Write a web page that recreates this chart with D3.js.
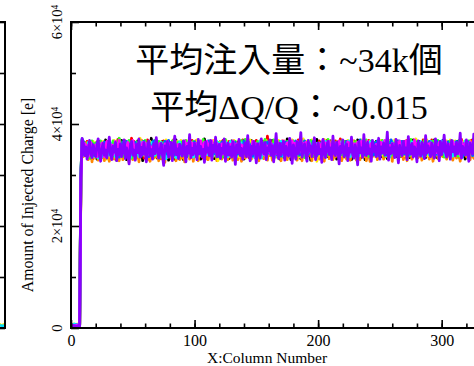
<!DOCTYPE html>
<html>
<head>
<meta charset="utf-8">
<script src="https://cdn.jsdelivr.net/npm/d3@7"></script>
<style>
  html, body { margin: 0; padding: 0; background: #fff; }
  svg { display: block; }
  .tick-text { font-family: 'Liberation Serif', 'Times New Roman', serif; fill: #000; }
  .note { font-family: 'Liberation Serif', 'Noto Sans CJK JP', serif; font-size: 34px; fill: #000; }
</style>
</head>
<body>
<div id="chart"></div>
<script>
// values are in units of 100 e, one per column (0..330)
const seriesBlack = [5,4,6,5,4,5,4,6,302,368,
351,344,360,337,355,346,333,363,341,352,358,331,347,366,340,356,335,350,369,343,
338,352,345,361,334,357,348,329,365,351,343,368,337,355,346,330,359,350,338,362,
356,334,351,343,367,339,352,361,328,347,365,341,337,356,349,372,334,348,359,340,
333,361,352,340,366,349,336,354,345,329,363,338,357,346,331,369,350,343,356,337,
352,330,364,345,359,338,349,366,341,355,336,357,349,342,364,331,353,345,371,339,
360,336,354,347,338,365,332,352,359,344,340,366,348,357,335,351,362,343,332,358,
367,344,333,356,349,338,354,365,342,350,331,352,364,340,357,345,368,336,353,360,
346,337,358,349,343,366,333,352,361,339,355,340,351,368,344,336,357,350,365,331,
362,348,335,355,343,371,338,352,330,359,341,364,353,337,358,346,332,367,355,343,
360,349,338,354,329,363,345,336,358,370,339,356,364,347,333,352,359,344,336,357,
367,349,340,358,352,331,365,344,353,338,348,363,335,351,357,342,366,330,355,361,
337,350,369,343,359,334,356,347,330,364,345,357,332,361,340,352,338,366,355,343,
358,336,365,341,353,344,332,360,347,368,339,355,362,336,350,365,341,353,359,334,
366,345,357,341,334,360,346,369,338,352,359,343,366,352,338,347,363,334,356,341,
364,352,338,360,369,343,334,357,350,337,355,368,342,336,359,348,365,354,339,362,
341,360,349,366,335,353,344,363,357,331,352,338,364,343,357,369,336,350,361,346,355];

const seriesRed = [6,5,4,6,5,6,5,5,290,365,
344,359,338,366,342,353,362,347,332,358,349,365,340,356,361,337,348,363,334,351,
366,340,357,348,336,362,341,354,370,347,338,355,361,343,367,341,352,336,349,372,
351,366,340,349,336,357,345,368,352,333,358,346,369,339,355,343,364,337,351,346,
365,344,358,332,352,367,341,338,356,362,336,351,345,369,341,355,363,349,335,366,
359,343,338,360,347,354,340,357,368,345,348,367,341,355,336,362,349,333,356,352,
337,364,350,341,360,346,368,339,357,362,347,354,338,368,345,360,337,352,366,343,
358,336,361,351,342,365,339,356,346,369,362,340,353,347,334,366,350,359,338,357,
368,343,356,362,337,341,365,346,352,376,339,358,366,345,351,362,338,357,348,343,
355,367,342,350,338,354,363,341,367,351,346,337,361,353,369,340,358,346,337,366,
352,364,345,338,361,352,337,346,363,356,344,367,340,358,351,336,348,368,342,353,
338,362,352,339,367,347,356,345,371,336,357,350,366,341,354,363,338,349,358,367,
345,333,356,349,366,341,362,352,339,356,350,368,343,355,337,364,349,359,340,348,
364,347,357,335,366,352,341,368,358,337,349,363,345,357,367,341,349,336,362,353,
357,335,368,347,362,353,338,348,366,360,343,356,337,362,348,369,355,344,339,365,
356,347,369,337,358,349,362,341,366,350,362,339,356,367,348,340,353,363,346,335,
366,351,338,356,362,343,370,348,339,365,344,362,351,339,368,356,346,357,367,340,359];

const seriesOrange = [7,6,5,7,6,5,6,7,285,362,
336,348,364,345,330,358,351,326,347,339,361,342,329,352,345,334,357,328,343,360,
341,327,350,339,362,331,345,359,335,328,352,344,330,341,356,347,337,325,353,342,
330,357,347,333,352,326,361,340,346,356,338,353,330,345,327,344,357,333,349,335,
343,328,339,355,331,346,325,361,334,351,354,332,349,337,346,328,343,358,330,340,
333,350,326,344,339,359,331,342,348,327,355,339,346,328,352,341,358,336,344,331,
349,330,343,356,332,341,337,355,328,353,339,358,331,347,352,339,345,330,357,336,
345,329,352,340,362,330,347,343,327,359,341,333,349,357,338,343,331,352,344,334,
356,336,328,347,341,360,332,343,351,329,362,338,345,329,357,342,335,351,340,348,
328,355,343,339,361,330,350,336,358,344,333,352,344,329,350,362,339,328,357,341,
347,335,354,342,340,328,360,343,332,349,353,331,343,356,340,327,364,339,349,332,
344,358,330,351,335,356,338,343,360,328,336,351,342,331,360,341,329,347,354,337,
357,329,345,338,330,359,343,336,351,328,341,350,327,345,359,337,361,344,330,350,
339,343,356,331,347,336,353,332,341,359,327,350,337,344,358,333,348,338,354,330,
351,342,328,359,337,349,331,346,341,357,339,334,352,346,329,357,340,350,337,344,
331,358,346,327,352,340,361,332,345,338,350,336,343,352,331,359,337,345,356,329,
341,354,333,348,340,327,352,339,355,344,336,355,342,330,347,338,333,352,343,361,337];

const seriesYellow = [8,7,8,6,7,8,7,6,280,360,
354,346,341,357,339,362,350,344,366,335,344,350,365,338,355,347,366,342,357,331,
358,346,336,354,349,368,335,352,344,361,347,359,343,366,340,357,351,338,362,354,
365,341,357,362,351,347,372,343,356,340,337,359,348,353,366,338,350,364,341,356,
353,345,366,336,349,359,342,369,337,350,358,346,340,362,337,352,366,344,349,368,
346,363,341,354,367,336,357,348,364,352,341,356,369,337,350,345,365,342,360,346,
362,340,359,350,344,368,339,356,345,328,351,366,343,360,339,354,367,341,353,362,
340,356,368,345,350,359,336,365,347,354,355,348,339,361,352,369,343,357,347,336,
359,352,366,341,357,344,363,339,368,349,353,345,359,363,340,355,352,337,368,347,
350,339,356,367,347,360,338,354,345,369,363,341,355,348,360,336,352,343,371,358,
347,366,352,358,343,369,340,355,345,327,361,349,336,363,356,370,344,350,359,346,
342,367,358,348,361,340,354,366,337,357,363,339,357,346,368,351,342,359,366,348,
352,365,341,354,338,369,349,358,343,361,339,354,366,348,343,359,337,355,365,346,
357,368,339,350,361,345,356,342,367,351,345,358,369,341,355,347,364,339,350,362,
338,367,353,344,366,339,357,350,345,371,366,348,359,341,354,363,346,356,369,338,
343,360,352,365,346,358,339,363,356,344,358,345,361,340,367,352,343,369,337,355,
349,367,355,345,358,362,340,351,366,343,362,351,345,367,339,356,358,341,352,325,347];

const seriesGreen = [5,6,7,5,6,7,6,5,298,370,
347,364,343,350,360,333,356,367,345,361,363,338,354,347,367,342,340,358,363,348,
347,360,352,341,367,337,355,345,360,372,365,340,355,336,352,362,347,368,341,333,
347,360,338,365,341,353,343,359,366,350,368,336,358,345,352,363,347,337,368,352,
340,366,335,357,345,364,351,342,361,347,350,341,367,343,359,346,336,365,352,359,
365,338,356,368,343,348,363,351,337,366,352,343,362,347,366,338,357,370,348,343,
356,349,367,338,352,343,363,348,335,364,343,361,352,336,356,370,341,347,359,348,
364,351,339,366,337,352,347,360,368,341,343,370,349,355,364,340,361,349,354,342,
351,366,340,355,347,338,357,370,344,360,364,349,356,338,369,340,346,363,356,366,
348,361,337,359,351,366,346,339,355,344,367,355,348,362,338,365,344,360,351,334,
356,342,363,350,368,344,361,337,359,352,347,363,355,340,346,362,351,338,370,356,
361,343,350,366,344,352,340,359,347,367,340,366,353,337,362,345,358,341,350,356,
366,341,358,363,352,345,338,362,357,369,353,336,361,367,350,341,364,348,362,355,
342,361,368,348,337,358,346,355,364,339,357,340,353,366,342,359,336,366,345,341,
361,349,340,356,338,370,352,344,358,366,347,339,363,355,344,342,368,351,362,346,
359,344,355,367,341,350,356,368,341,362,346,360,335,358,352,343,366,357,344,367,
363,345,360,337,368,350,357,362,341,353,355,340,367,349,345,363,350,367,358,344,362];

const seriesCyan = [6,7,6,8,7,6,7,8,300,371,
339,355,348,344,364,340,352,357,336,343,354,346,333,361,349,335,352,344,341,359,
345,339,363,347,358,343,336,362,346,352,358,348,342,350,363,338,355,345,334,348,
362,345,352,341,358,336,349,364,340,355,344,360,343,349,338,357,365,345,339,361,
347,357,342,364,336,354,348,332,350,358,343,360,352,348,355,334,358,351,365,339,
349,356,363,338,350,364,345,360,343,335,361,339,353,365,344,350,341,359,362,349,
340,358,347,352,364,337,357,343,366,351,362,348,357,351,343,365,358,336,348,366,
351,362,340,359,336,357,344,351,363,347,358,345,357,343,361,353,339,364,335,352,
343,357,351,367,333,356,348,339,359,341,350,364,347,352,360,335,361,341,351,357,
366,337,361,345,358,347,363,350,341,364,352,360,338,356,347,358,340,353,344,349,
338,356,349,364,352,359,346,361,339,362,357,345,361,352,338,356,366,349,344,351,
349,355,344,361,357,346,362,337,364,352,344,358,361,349,345,367,336,356,348,342,
360,354,347,338,361,357,366,341,353,345,358,347,365,341,354,360,343,351,338,364,
348,341,359,366,356,338,362,346,335,354,365,356,341,347,361,354,345,360,343,359,
350,362,346,352,340,357,365,337,349,356,361,352,341,366,357,336,351,360,347,353,
339,366,343,355,360,347,352,340,361,348,367,344,352,338,363,355,341,350,362,337,
347,364,343,361,353,338,359,344,352,367,350,343,358,354,362,345,339,363,349,357,343];

const seriesBlue = [4,5,4,5,6,4,5,6,294,369,
366,340,357,349,343,355,346,361,352,338,345,363,356,336,359,350,344,365,337,355,
361,353,339,357,345,355,362,341,358,335,344,352,365,348,343,366,351,339,361,347,
355,339,364,346,357,343,352,337,360,366,351,345,362,336,359,348,341,367,356,349,
359,336,352,349,358,342,366,346,341,368,347,355,361,338,364,349,357,339,360,352,
341,365,343,357,336,362,352,345,356,362,365,351,337,359,348,343,361,356,339,345,
353,367,339,358,348,355,342,361,350,336,358,341,365,349,360,347,339,355,345,351,
346,359,352,364,345,341,361,348,356,338,367,350,344,352,341,359,355,337,362,345,
357,345,361,338,352,363,347,356,341,365,343,357,339,360,347,352,366,339,356,350,
337,362,351,347,365,341,356,347,360,343,355,349,367,342,352,339,361,351,345,367,
350,361,340,346,356,348,366,350,343,338,342,350,355,365,343,349,337,362,354,360,
356,339,366,354,348,359,345,350,339,361,351,345,339,366,350,357,361,345,344,350,
342,360,352,345,369,348,357,339,361,350,360,345,356,352,346,339,363,341,367,338,
351,358,343,355,350,361,339,359,346,369,354,361,346,352,339,367,353,344,366,347,
341,357,363,338,358,346,343,357,362,339,354,365,347,356,341,352,360,339,350,360,
366,340,360,349,355,339,367,345,352,356,343,357,349,361,342,365,340,359,351,347,
359,343,366,350,345,358,352,335,361,356,341,366,356,346,361,338,355,348,343,366,352];

const seriesMagenta = [5,6,5,4,5,6,4,5,288,366,
349,362,345,358,336,352,364,341,356,350,359,336,361,349,344,363,351,336,356,366,
349,363,347,359,340,350,366,346,354,368,341,357,349,352,345,351,364,343,347,356,
368,353,345,359,348,362,337,350,364,345,363,350,340,362,346,355,343,359,347,367,
344,351,362,343,355,338,361,349,366,354,361,348,355,364,350,358,343,360,341,347,
355,348,367,351,362,343,351,340,363,356,344,362,356,349,355,367,345,351,364,341,
366,346,361,343,367,350,359,345,362,355,354,344,361,341,366,352,345,362,341,360,
342,367,356,348,361,349,358,341,359,354,345,362,350,368,349,348,342,366,350,362,
361,349,343,359,365,354,340,361,355,346,358,343,362,350,345,359,342,366,341,361,
353,344,367,352,340,363,355,360,346,367,345,362,344,366,351,361,350,343,362,352,
364,355,344,362,349,354,342,368,351,359,351,362,347,357,369,342,363,346,353,366,
347,359,352,342,363,355,348,367,342,351,359,352,344,357,365,339,363,357,347,361,
361,343,364,353,348,366,342,355,361,344,366,351,343,362,357,348,351,360,345,357,
345,364,351,347,368,344,363,351,358,347,362,345,360,352,364,350,367,346,354,345,
353,367,342,363,355,351,359,343,369,350,362,346,354,348,363,345,357,366,352,361,
351,363,341,358,353,366,344,350,364,358,346,362,351,366,355,349,360,343,355,366,
357,344,362,355,347,340,366,358,352,361,366,350,341,365,355,349,363,359,348,351,366];

const seriesPurple = [4,3,5,4,3,4,5,4,296,372,
362,338,355,331,350,368,341,334,359,347,336,357,371,343,327,352,362,339,349,333,
354,374,342,330,356,345,364,328,350,340,361,336,348,369,332,353,342,322,357,366,
339,349,329,360,344,371,335,354,340,363,346,326,355,367,338,350,331,361,342,373,
352,333,348,362,339,319,357,347,366,335,344,364,328,354,376,340,351,332,360,345,
337,367,349,326,356,343,379,334,352,340,362,348,330,370,342,356,336,350,325,365,
345,353,338,368,329,358,346,374,336,349,360,332,352,343,371,327,350,363,339,355,
335,365,347,321,359,344,370,338,352,331,350,363,336,377,346,328,356,341,366,348,
324,361,345,333,371,350,342,364,330,353,347,369,339,357,326,349,381,344,332,362,
340,352,366,329,356,344,337,372,349,323,359,346,331,365,342,354,383,335,348,361,
339,327,368,347,357,336,351,373,330,345,363,342,350,325,370,347,334,357,366,340,
353,330,376,345,338,364,349,322,356,344,369,336,348,361,328,352,345,374,340,333,
359,347,320,366,344,353,335,379,348,338,364,342,351,327,368,346,357,336,349,372,
331,355,344,363,339,350,384,329,353,342,361,347,334,370,345,324,358,349,338,366,
344,353,330,375,348,341,362,335,355,347,326,367,346,337,364,351,332,377,343,357,
348,336,363,344,333,371,347,354,328,366,340,351,378,345,335,361,348,331,368,346,
355,338,364,342,350,382,333,356,346,339,369,347,327,362,351,341,380,344,334,358,348];

// tail of the neighbouring panel on the left (last columns only)
const leftTailCols = [335, 336, 337, 338, 339, 340];
const leftTailYellow = [6, 7, 5, 6, 7, 6];
const leftTailCyan = [4, 5, 5, 4, 5, 5];

const xTickValues = [0, 100, 200, 300];
const xTickLabels = ['0', '100', '200', '300'];
const yTickValues = [0, 20000, 40000, 60000];
const yTickLabels = [['0', ''], ['2\u00d710', '4'], ['4\u00d710', '4'], ['6\u00d710', '4']];

const xTitle = 'X:Column Number';
const yTitle = 'Amount of Injected Charge [e]';
const noteLines = ['平均注入量：~34k個', '平均ΔQ/Q：~0.015'];

const seriesList = [
  { name: 'black', values: seriesBlack, color: '#000000' },
  { name: 'red', values: seriesRed, color: '#ff0000' },
  { name: 'orange', values: seriesOrange, color: '#ff8800' },
  { name: 'yellow', values: seriesYellow, color: '#ffee00' },
  { name: 'green', values: seriesGreen, color: '#33ff22' },
  { name: 'cyan', values: seriesCyan, color: '#00eeff' },
  { name: 'blue', values: seriesBlue, color: '#0066ff' },
  { name: 'magenta', values: seriesMagenta, color: '#ff00ff' },
  { name: 'purple', values: seriesPurple, color: '#8800ff' }
];

const W = 474, H = 366;
const plot = { left: 71, top: 22, bottom: 328 };
const pxPerCol = 1.2356;
const xMax = 345;

const svg = d3.select('#chart').append('svg')
  .attr('width', W)
  .attr('height', H);

const x = d3.scaleLinear()
  .domain([0, xMax])
  .range([plot.left, plot.left + xMax * pxPerCol]);

const y = d3.scaleLinear()
  .domain([0, 60000])
  .range([plot.bottom, plot.top]);

svg.append('defs').append('clipPath')
  .attr('id', 'plotClip')
  .append('rect')
  .attr('x', plot.left)
  .attr('y', plot.top)
  .attr('width', x(xMax) - plot.left)
  .attr('height', plot.bottom - plot.top);

// Lines
const line = d3.line()
  .x((d, i) => x(i))
  .y(d => y(d * 100));

const lines = svg.append('g').attr('clip-path', 'url(#plotClip)');
seriesList.forEach(s => {
  lines.append('path')
    .datum(s.values)
    .attr('fill', 'none')
    .attr('stroke', s.color)
    .attr('stroke-width', 2.8)
    .attr('stroke-linejoin', 'round')
    .attr('d', line);
});

// Frame
svg.append('rect')
  .attr('x', plot.left)
  .attr('y', plot.top)
  .attr('width', x(xMax) - plot.left)
  .attr('height', plot.bottom - plot.top)
  .attr('fill', 'none')
  .attr('stroke', '#000')
  .attr('stroke-width', 2);

function styleAxis(g) {
  g.select('.domain').remove();
  g.selectAll('line').attr('stroke', '#000').attr('stroke-width', 1.6);
}

const xMinor = d3.range(0, xMax, 20);
const yMinor = [10000, 30000, 50000];

// bottom axis
svg.append('g')
  .attr('transform', `translate(0,${plot.bottom})`)
  .call(d3.axisBottom(x).tickValues(xMinor).tickSize(-4.5).tickFormat(''))
  .call(styleAxis);
svg.append('g')
  .attr('transform', `translate(0,${plot.bottom})`)
  .call(d3.axisBottom(x).tickValues(xTickValues).tickSize(-8).tickPadding(7)
    .tickFormat((d, i) => xTickLabels[i]))
  .call(styleAxis)
  .selectAll('text')
  .attr('class', 'tick-text')
  .style('font-size', '16px');

// top axis
svg.append('g')
  .attr('transform', `translate(0,${plot.top})`)
  .call(d3.axisTop(x).tickValues(xMinor).tickSize(-4.5).tickFormat(''))
  .call(styleAxis);
svg.append('g')
  .attr('transform', `translate(0,${plot.top})`)
  .call(d3.axisTop(x).tickValues(xTickValues).tickSize(-8).tickFormat(''))
  .call(styleAxis);

// left axis
svg.append('g')
  .attr('transform', `translate(${plot.left},0)`)
  .call(d3.axisLeft(y).tickValues(yMinor).tickSize(-5).tickFormat(''))
  .call(styleAxis);
svg.append('g')
  .attr('transform', `translate(${plot.left},0)`)
  .call(d3.axisLeft(y).tickValues(yTickValues).tickSize(-8).tickFormat(''))
  .call(styleAxis);

// rotated y tick labels
yTickValues.forEach((v, i) => {
  const t = svg.append('text')
    .attr('class', 'tick-text')
    .attr('transform', `translate(62,${y(v)}) rotate(-90)`)
    .attr('text-anchor', 'middle')
    .style('font-size', '14.5px');
  t.append('tspan').text(yTickLabels[i][0]);
  if (yTickLabels[i][1]) {
    t.append('tspan')
      .attr('dy', '-0.45em')
      .style('font-size', '9.5px')
      .text(yTickLabels[i][1]);
  }
});

// axis titles
svg.append('text')
  .attr('class', 'tick-text')
  .attr('x', 267)
  .attr('y', 363)
  .attr('text-anchor', 'middle')
  .style('font-size', '15.5px')
  .text(xTitle);

svg.append('text')
  .attr('class', 'tick-text')
  .attr('transform', 'translate(33,195) rotate(-90)')
  .attr('text-anchor', 'middle')
  .style('font-size', '15.8px')
  .text(yTitle);

// neighbouring panel edge on the left
const xLeft = d3.scaleLinear()
  .domain([0, 340])
  .range([5 - 340 * pxPerCol, 5]);

const leftLine = d3.line()
  .x((d, i) => xLeft(leftTailCols[i]))
  .y(d => y(d * 100));

[[leftTailYellow, '#ffee00'], [leftTailCyan, '#00ddff']].forEach(([vals, c]) => {
  svg.append('path')
    .datum(vals)
    .attr('fill', 'none')
    .attr('stroke', c)
    .attr('stroke-width', 2.6)
    .attr('d', leftLine);
});

svg.append('path')
  .attr('d', `M${xLeft(300)},${plot.top}H5V${plot.bottom}H${xLeft(300)}`)
  .attr('fill', 'none')
  .attr('stroke', '#000')
  .attr('stroke-width', 2);

svg.append('g')
  .attr('transform', 'translate(5,0)')
  .call(d3.axisRight(y).tickValues(yMinor).tickSize(-5).tickFormat(''))
  .call(styleAxis);
svg.append('g')
  .attr('transform', 'translate(5,0)')
  .call(d3.axisRight(y).tickValues(yTickValues).tickSize(-8).tickFormat(''))
  .call(styleAxis);

// annotation
noteLines.forEach((txt, i) => {
  svg.append('text')
    .attr('class', 'note')
    .attr('x', 289)
    .attr('y', 72 + i * 47)
    .attr('text-anchor', 'middle')
    .text(txt);
});
</script>
</body>
</html>
